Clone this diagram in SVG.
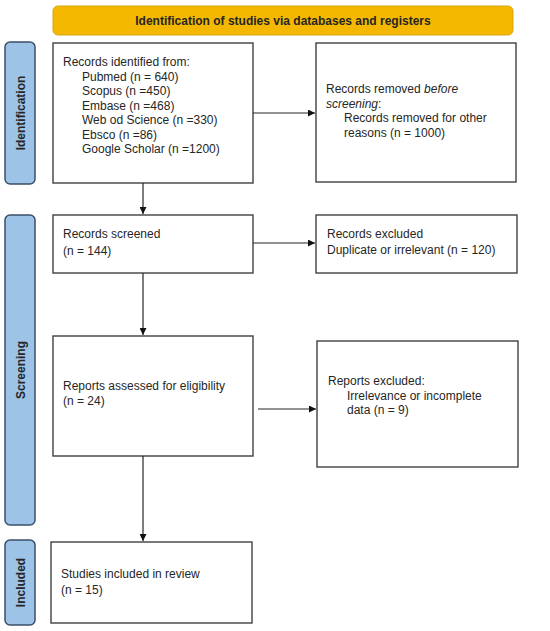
<svg xmlns="http://www.w3.org/2000/svg" width="550" height="631" viewBox="0 0 550 631">
<style>
text{font-family:"Liberation Sans",Arial,sans-serif;font-size:12px;fill:#262626}
.b{font-weight:bold}
.box{fill:#fff;stroke:#404040;stroke-width:1.4}
.side{fill:#9DC3E6;stroke:#3A5068;stroke-width:1.5}
.con{stroke:#262626;stroke-width:1.2;fill:none;marker-end:url(#ah)}
</style>
<defs>
<marker id="ah" viewBox="0 0 10 10" refX="10" refY="5" markerWidth="7" markerHeight="7" markerUnits="userSpaceOnUse" orient="auto">
<path d="M0,0L10,5L0,10z" fill="#111"/>
</marker>
</defs>
<rect width="550" height="631" fill="#fff"/>
<g id="banner">
<rect x="53" y="6" width="460" height="29" rx="5" fill="#F5B800" stroke="#D8A510" stroke-width="1"/>
<text class="b" x="283" y="25" text-anchor="middle">Identification of studies via databases and registers</text>
</g>
<g id="side-identification">
<rect class="side" x="5" y="42" width="30" height="142" rx="5"/>
<text class="b" transform="translate(24.5,113) rotate(-90)" text-anchor="middle">Identification</text>
</g>
<g id="side-screening">
<rect class="side" x="5" y="215" width="30" height="310" rx="5"/>
<text class="b" transform="translate(24.5,370) rotate(-90)" text-anchor="middle">Screening</text>
</g>
<g id="side-included">
<rect class="side" x="5" y="540" width="30" height="85" rx="5"/>
<text class="b" transform="translate(24.5,582.5) rotate(-90)" text-anchor="middle">Included</text>
</g>
<g id="records-identified">
<rect class="box" x="53" y="43" width="200" height="140"/>
<text x="63" y="66">Records identified from:</text>
<text x="82" y="80.5">Pubmed (n = 640)</text>
<text x="82" y="95">Scopus (n =450)</text>
<text x="82" y="109.5">Embase (n =468)</text>
<text x="82" y="124">Web od Science (n =330)</text>
<text x="82" y="138.5">Ebsco (n =86)</text>
<text x="82" y="153">Google Scholar (n =1200)</text>
</g>
<g id="records-removed">
<rect class="box" x="316" y="43" width="200" height="139"/>
<text x="326" y="93">Records removed <tspan font-style="italic">before</tspan></text>
<text x="326" y="107.5"><tspan font-style="italic">screening</tspan>:</text>
<text x="344" y="122">Records removed for other</text>
<text x="344" y="136.5">reasons (n = 1000)</text>
</g>
<g id="records-screened">
<rect class="box" x="53" y="215" width="200" height="58"/>
<text x="63" y="238">Records screened</text>
<text x="63" y="255">(n = 144)</text>
</g>
<g id="records-excluded">
<rect class="box" x="316" y="215" width="201" height="58"/>
<text x="327" y="238">Records excluded</text>
<text x="327" y="254">Duplicate or irrelevant (n = 120)</text>
</g>
<g id="reports-assessed">
<rect class="box" x="53" y="336" width="200" height="120"/>
<text x="63" y="390">Reports assessed for eligibility</text>
<text x="63" y="405">(n = 24)</text>
</g>
<g id="reports-excluded">
<rect class="box" x="317" y="341" width="201" height="126"/>
<text x="328" y="385">Reports excluded:</text>
<text x="347" y="399.5">Irrelevance or incomplete</text>
<text x="347" y="414">data (n = 9)</text>
</g>
<g id="studies-included">
<rect class="box" x="51" y="542" width="201" height="81"/>
<text x="61" y="578">Studies included in review</text>
<text x="61" y="594">(n = 15)</text>
</g>
<g id="connectors">
<line class="con" x1="253" y1="113" x2="315" y2="113"/>
<line class="con" x1="143" y1="183" x2="143" y2="214"/>
<line class="con" x1="253" y1="243" x2="315" y2="243"/>
<line class="con" x1="143" y1="273" x2="143" y2="335"/>
<line class="con" x1="258" y1="409" x2="316" y2="409"/>
<line class="con" x1="143" y1="456" x2="143" y2="541"/>
</g>
</svg>
